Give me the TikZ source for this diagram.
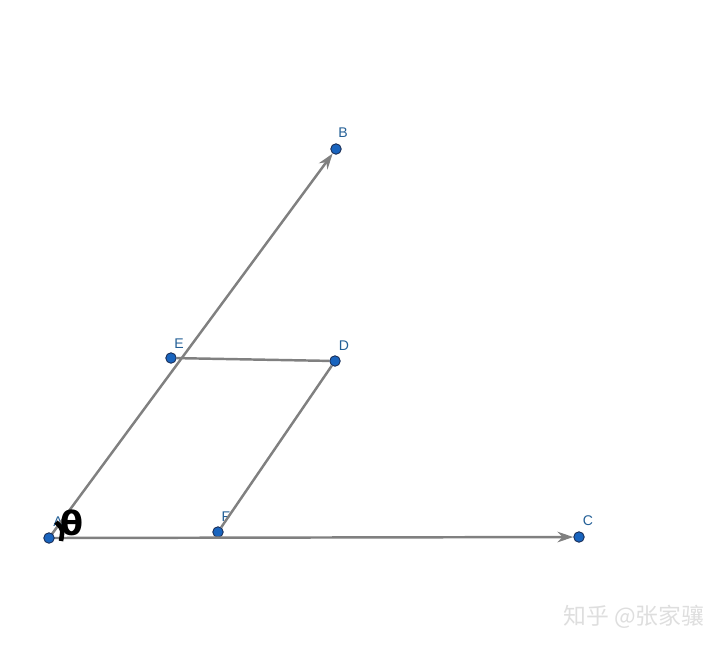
\documentclass[tikz,border=0pt]{standalone}
\usepackage{fontspec}
\setmainfont{Liberation Sans}
\newfontfamily\cjkfont{Noto Sans CJK SC}
\newfontfamily\thetafont{DejaVu Sans}
\usetikzlibrary{positioning,calc,arrows,arrows.meta}
\definecolor{pointblue}{RGB}{25,100,190}
\definecolor{pointrim}{RGB}{25,45,85}
\definecolor{labelblue}{RGB}{35,95,150}
\definecolor{segray}{RGB}{128,128,128}

\begin{document}
\begin{tikzpicture}[x={(0.02cm,0)},y={(0,-0.02cm)},
                line width=1.4pt,
                main node/.style={circle,draw=pointrim,fill=pointblue,line width=0.5pt,
                                  minimum size=0.21cm,inner sep=0pt},
                lbl/.style={text=labelblue,font=\fontsize{8}{8}\selectfont,inner sep=0pt},
                seg/.style={draw=segray},
                vec/.style={seg,-{Stealth[length=9pt,width=6pt]}}]
\useasboundingbox (0,0) rectangle (720,647);
%Nodes
    \node[main node] (B) at (336,149) {};
    \node[main node] (E) at (171,358) {};
    \node[main node] (D) at (335,361) {};
    \node[main node] (F) at (218,532) {};
    \node[main node] (C) at (579,537) {};
%Labels
    \node[lbl] (Alab) at (58,522) {A};
    \node[lbl] (Blab) at (343,133) {B};
    \node[lbl] (Clab) at (588,521) {C};
    \node[lbl] (Dlab) at (344,346) {D};
    \node[lbl] (Elab) at (179,344) {E};
    \node[lbl] (Flab) at (226,517) {F};
    \coordinate (Aend) at (49,538);

    \draw[vec] (Aend) -- (B);
    \draw[vec] (Aend) -- (C);
    \draw[seg] (E) -- (D);
    \draw[seg] (F) -- (D);

%angle mark
    \draw[black,line width=2.6pt] (61,541) .. controls (63,529) .. (56,522);
    \node[font=\thetafont\bfseries\fontsize{19}{19}\selectfont,inner sep=0pt] (theta) at (72,523) {θ};
    \node[main node] (A) at (Aend) {};

    \node[font=\cjkfont\fontsize{13}{13}\selectfont,text=black!13,inner sep=0pt] (mark) at (634,617) {知乎 @张家骧};
\end{tikzpicture}
\end{document}
